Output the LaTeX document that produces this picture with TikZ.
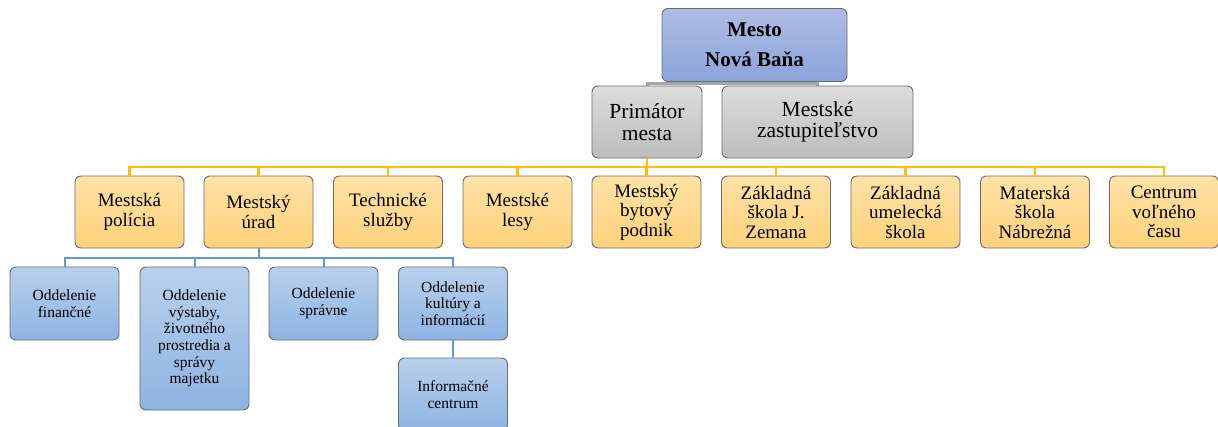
\documentclass[tikz,border=0pt]{standalone}
\usepackage{fontspec}
\setmainfont{Liberation Serif}
\usetikzlibrary{backgrounds}
\definecolor{bordc}{HTML}{6B6B6B}
\definecolor{topbA}{HTML}{AEBCE3}
\definecolor{topbB}{HTML}{8CA4DB}
\definecolor{grayA}{HTML}{DCDCDC}
\definecolor{grayB}{HTML}{BDBDBD}
\definecolor{orA}{HTML}{FFE2A6}
\definecolor{orB}{HTML}{FFD27C}
\definecolor{blA}{HTML}{B9D0EC}
\definecolor{blB}{HTML}{8DB3E2}
\definecolor{yline}{HTML}{FFC000}
\definecolor{bline}{HTML}{5B9BD5}
\definecolor{gline}{HTML}{A6A6A6}
\tikzset{
  box/.style={draw=bordc, line width=0.9pt, rounded corners=6pt, align=center, inner sep=2pt},
  topbox/.style={box, top color=topbA, bottom color=topbB, minimum width=185pt, minimum height=73pt,
     font=\fontsize{21}{30}\selectfont\bfseries},
  graybox/.style={box, top color=grayA, bottom color=grayB, minimum height=72pt,
     font=\fontsize{21.5}{21.5}\selectfont},
  orbox/.style={box, top color=orA, bottom color=orB, minimum width=109pt, minimum height=72pt,
     font=\fontsize{19}{19.5}\selectfont},
  blbox/.style={box, top color=blA, bottom color=blB, minimum width=109pt, minimum height=73pt,
     font=\fontsize{15.5}{16.7}\selectfont},
  yconn/.style={draw=yline, line width=2.4pt},
  bconn/.style={draw=bline, line width=2pt},
  gconn/.style={draw=gline, line width=3pt},
}
\begin{document}
\begin{tikzpicture}[x=1pt,y=-1pt]
\useasboundingbox (0,0) rectangle (1218,426);
% top
\node[topbox] (mesto) at (754.5,45) {Mesto\\Nová Baňa};
\node[graybox, minimum width=110pt] (prim) at (647,122) {Primátor\\mesta};
\node[graybox, minimum width=191pt] (zast) at (817.5,122) {Mestské\\zastupiteľstvo};
% level 2
\node[orbox] (n1) at (129.5,212) {Mestská\\polícia};
\node[orbox] (n2) at (258.5,212) {Mestský\\úrad};
\node[orbox] (n3) at (388,212) {Technické\\služby};
\node[orbox] (n4) at (517.5,212) {Mestské\\lesy};
\node[orbox] (n5) at (646.5,212) {Mestský\\bytový\\podnik};
\node[orbox] (n6) at (776,212) {Základná\\škola J.\\Zemana};
\node[orbox] (n7) at (905.5,212) {Základná\\umelecká\\škola};
\node[orbox] (n8) at (1035,212) {Materská\\škola\\Nábrežná};
\node[orbox] (n9) at (1164,212) {Centrum\\voľného\\času};
% level 3
\node[blbox] (o1) at (64.5,303.5) {Oddelenie\\finančné};
\node[blbox, minimum height=143pt] (o2) at (194.5,338.5) {Oddelenie\\výstaby,\\životného\\prostredia a\\správy\\majetku};
\node[blbox] (o3) at (323.5,303.5) {Oddelenie\\správne};
\node[blbox] (o4) at (453,303.5) {Oddelenie\\kultúry a\\informácií};
\node[blbox] (o5) at (453,394.5) {Informačné\\centrum};
% connectors
\coordinate (gy) at (0,83.5);
\coordinate (yy) at (0,167);
\coordinate (by) at (0,258);
\begin{pgfonlayer}{background}
\draw[gconn] (prim.center) -- (prim.center |- gy) -- (zast.center |- gy) -- (zast.center);
\end{pgfonlayer}
\draw[yconn] (prim.south) -- (prim.south |- yy);
\draw[yconn] (n1.north) -- (n1.north |- yy) -- (n9.north |- yy) -- (n9.north);
\foreach \n in {n2,n3,n4,n5,n6,n7,n8}{
  \draw[yconn] (\n.north) -- (\n.north |- yy);
}
\draw[bconn] (n2.south) -- (n2.south |- by);
\draw[bconn] (o1.north) -- (o1.north |- by) -- (o4.north |- by) -- (o4.north);
\foreach \n in {o2,o3}{
  \draw[bconn] (\n.north) -- (\n.north |- by);
}
\draw[bconn] (o4.south) -- (o5.north);
\end{tikzpicture}
\end{document}
